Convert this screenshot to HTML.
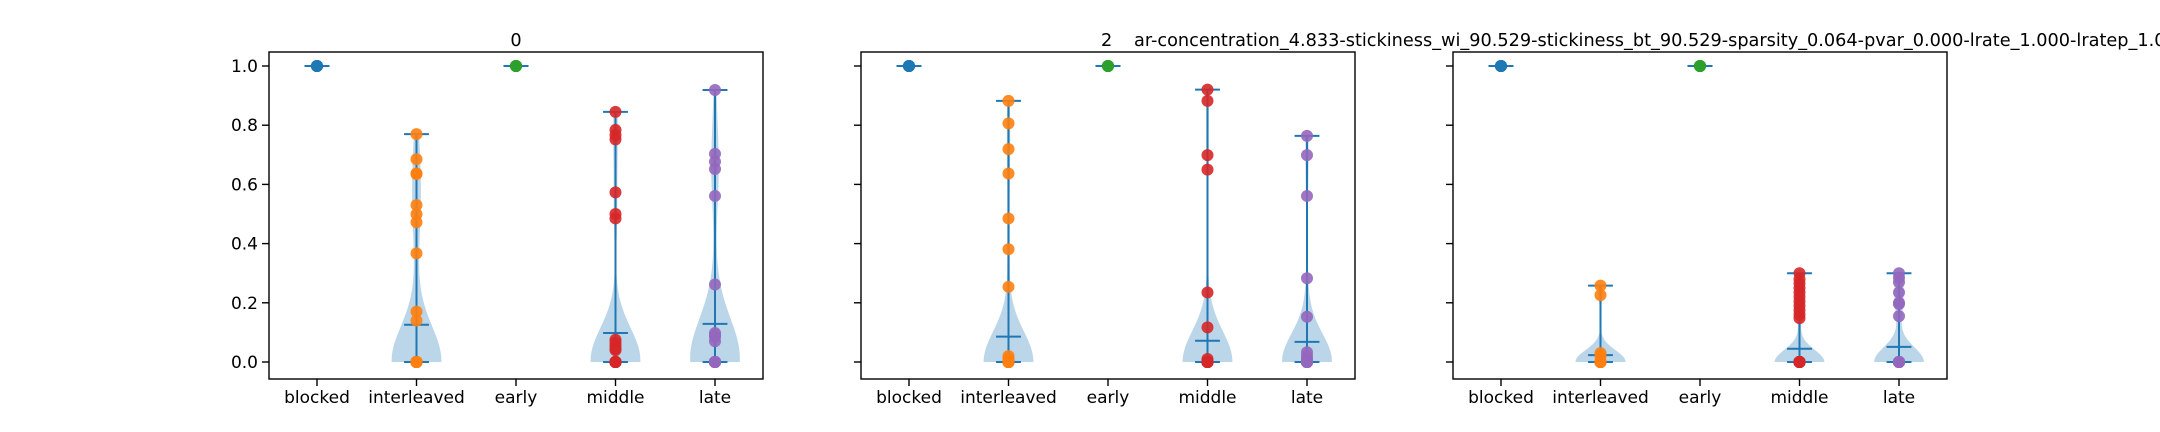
<!DOCTYPE html>
<html><head><meta charset="utf-8"><style>
html,body{margin:0;padding:0;background:#fff;}
svg{display:block;font-family:"DejaVu Sans","Liberation Sans",sans-serif;}
</style></head><body>
<svg id="chart" width="2160" height="432" viewBox="0 0 2160 432" xmlns="http://www.w3.org/2000/svg">
<rect x="0" y="0" width="2160" height="432" fill="#fff"/>
<text x="516" y="46" font-size="17.7" text-anchor="middle" fill="#000">0</text>
<text x="1101" y="46" font-size="17.7" fill="#000">2</text>
<text x="1134" y="46" font-size="17.7" fill="#000">ar-concentration_4.833-stickiness_wi_90.529-stickiness_bt_90.529-sparsity_0.064-pvar_0.000-lrate_1.000-lratep_1.000</text>
</svg>
<script>
const categories = ["blocked", "interleaved", "early", "middle", "late"];
const yTicks = [0.0, 0.2, 0.4, 0.6, 0.8, 1.0];
const yTickLabels = ["0.0", "0.2", "0.4", "0.6", "0.8", "1.0"];
const pointColors = ["#1f77b4", "#ff7f0e", "#2ca02c", "#d62728", "#9467bd"];

// panel 0
const p0Blocked = [1, 1, 1, 1, 1];
const p0Interleaved = [0.77, 0.685, 0.637, 0.635, 0.53, 0.499, 0.472, 0.367, 0.17, 0.14, 0,0,0,0,0,0,0,0,0,0, 0,0,0,0,0,0,0,0,0,0, 0,0,0,0,0,0,0,0,0];
const p0Early = [1, 1, 1, 1, 1];
const p0Middle = [0.845, 0.784, 0.767, 0.752, 0.573, 0.5, 0.485, 0.075, 0.065, 0.055, 0.045, 0.04, 0,0,0,0,0,0,0,0,0,0, 0,0,0,0,0,0,0,0,0,0, 0,0,0,0,0,0,0,0,0,0, 0,0,0,0,0,0,0,0,0];
const p0Late = [0.919, 0.703, 0.677, 0.652, 0.561, 0.262, 0.098, 0.09, 0.085, 0.07, 0,0,0,0,0,0,0,0,0,0, 0,0,0,0,0,0,0,0,0,0, 0,0];
// panel 1
const p1Blocked = [1, 1, 1, 1, 1];
const p1Interleaved = [0.882, 0.806, 0.719, 0.637, 0.485, 0.381, 0.254, 0.02, 0.01, 0,0,0,0,0,0,0,0,0,0, 0,0,0,0,0,0,0,0,0,0, 0,0,0,0,0,0,0,0,0,0, 0,0,0,0,0,0,0,0,0,0];
const p1Early = [1, 1, 1, 1, 1];
const p1Middle = [0.92, 0.882, 0.699, 0.65, 0.235, 0.117, 0.01, 0,0,0,0,0,0,0,0,0,0, 0,0,0,0,0,0,0,0,0,0, 0,0,0,0,0,0,0,0,0,0, 0,0,0,0,0,0,0,0,0,0, 0,0];
const p1Late = [0.764, 0.699, 0.561, 0.283, 0.153, 0.033, 0.02, 0.01, 0,0,0,0,0,0,0,0,0,0, 0,0,0,0,0,0,0,0,0,0, 0,0,0,0,0,0,0,0,0];
// panel 2
const p2Blocked = [1, 1, 1, 1, 1];
const p2Interleaved = [0.258, 0.226, 0.03, 0.02, 0,0,0,0,0,0,0,0,0,0, 0,0,0,0,0,0,0,0,0];
const p2Early = [1, 1, 1, 1, 1];
const p2Middle = [0.30, 0.28, 0.265, 0.25, 0.235, 0.22, 0.205, 0.19, 0.175, 0.16, 0.148, 0,0,0,0,0,0,0,0,0,0, 0,0,0,0,0,0,0,0,0,0, 0,0,0,0,0,0,0,0,0,0, 0,0,0,0,0,0,0,0,0,0, 0,0,0];
const p2Late = [0.30, 0.285, 0.27, 0.235, 0.2, 0.196, 0.155, 0,0,0,0,0,0,0,0,0,0, 0,0,0,0,0,0,0,0,0,0, 0,0,0,0,0];

const panelData = [
  [p0Blocked, p0Interleaved, p0Early, p0Middle, p0Late],
  [p1Blocked, p1Interleaved, p1Early, p1Middle, p1Late],
  [p2Blocked, p2Interleaved, p2Early, p2Middle, p2Late]
];

const NS = "http://www.w3.org/2000/svg";
const svg = document.getElementById("chart");
const AX_TOP = 52, AX_BOT = 379, AX_W = 494;
const Y0 = 362, YSCALE = 296;
const UNIT = 99.5, FIRST_OFF = 48;
const C0 = "#1f77b4";
const TICK_FONT = 17;

function yPix(v) { return Y0 - v * YSCALE; }
function xPix(left, pos) { return left + FIRST_OFF + (pos - 1) * UNIT; }
function mk(tag, attrs, parent) {
  const e = document.createElementNS(NS, tag);
  for (const k in attrs) e.setAttribute(k, attrs[k]);
  (parent || svg).appendChild(e);
  return e;
}
function mean(a) { return a.reduce((s, v) => s + v, 0) / a.length; }
function kdeCurve(a) {
  const n = a.length, m = mean(a);
  const variance = a.reduce((s, v) => s + (v - m) * (v - m), 0) / (n - 1);
  if (!(variance > 0)) return null;
  const bw2 = variance * Math.pow(n, -2 / 5);
  const lo = Math.min(...a), hi = Math.max(...a);
  const pts = [];
  for (let i = 0; i < 100; i++) {
    const c = lo + (hi - lo) * i / 99;
    let d = 0;
    for (const v of a) d += Math.exp(-(c - v) * (c - v) / (2 * bw2));
    pts.push([c, d]);
  }
  const mx = Math.max(...pts.map(p => p[1]));
  return pts.map(p => [p[0], p[1] / mx * 0.25]);
}

panelData.forEach((series, p) => {
  const left = 269 + 592 * p;
  const g = mk("g", {});
  
  

  series.forEach((vals, i) => {
    const curve = kdeCurve(vals);
    if (!curve) return;
    const cx = xPix(left, i + 1);
    let d = "";
    curve.forEach((pt, k) => { d += (k ? "L" : "M") + (cx + pt[1] * UNIT).toFixed(2) + "," + yPix(pt[0]).toFixed(2); });
    for (let k = curve.length - 1; k >= 0; k--) d += "L" + (cx - curve[k][1] * UNIT).toFixed(2) + "," + yPix(curve[k][0]).toFixed(2);
    const path = mk("path", { d: d + "Z", fill: C0, "fill-opacity": 0.3, stroke: "none" }, g);
    
    
  });

  series.forEach((vals, i) => {
    const cx = xPix(left, i + 1);
    const lo = Math.min(...vals), hi = Math.max(...vals), mu = mean(vals);
    const bar = mk("line", { x1: cx, x2: cx, y1: yPix(lo), y2: yPix(hi), stroke: C0, "stroke-width": 2 }, g);
    
    
    [[lo, 'min-cap'], [hi, 'max-cap'], [mu, 'mean-line']].forEach(([v, nm]) => {
      const l = mk("line", { x1: cx - 0.125 * UNIT, x2: cx + 0.125 * UNIT, y1: yPix(v), y2: yPix(v), stroke: C0, "stroke-width": 2 }, g);
      
      
    });
  });

  series.forEach((vals, i) => {
    const cx = xPix(left, i + 1);
    vals.forEach(v => {
      const c = mk("circle", { cx: cx, cy: yPix(v), r: 6, fill: pointColors[i], "fill-opacity": 0.9 }, g);
      
      
    });
  });

  const frame = mk("rect", { x: left, y: AX_TOP, width: AX_W, height: AX_BOT - AX_TOP, fill: "none", stroke: "#000", "stroke-width": 1.4 }, g);
  
  

  yTicks.forEach((t, k) => {
    const y = yPix(t);
    const tk = mk("line", { x1: left - 7, x2: left, y1: y, y2: y, stroke: "#000", "stroke-width": 1.4 }, g);
    
    
    if (p === 0) {
      const lb = mk("text", { x: left - 11, y: y + 6, "font-size": TICK_FONT, "text-anchor": "end", fill: "#000" }, g);
      lb.textContent = yTickLabels[k];
      
      
    }
  });

  categories.forEach((c, i) => {
    const x = xPix(left, i + 1);
    const tk = mk("line", { x1: x, x2: x, y1: AX_BOT, y2: AX_BOT + 7, stroke: "#000", "stroke-width": 1.4 }, g);
    
    
    const lb = mk("text", { x: x, y: AX_BOT + 24, "font-size": TICK_FONT, "text-anchor": "middle", fill: "#000" }, g);
    lb.textContent = c;
    
    
  });
});
</script>
</body></html>
